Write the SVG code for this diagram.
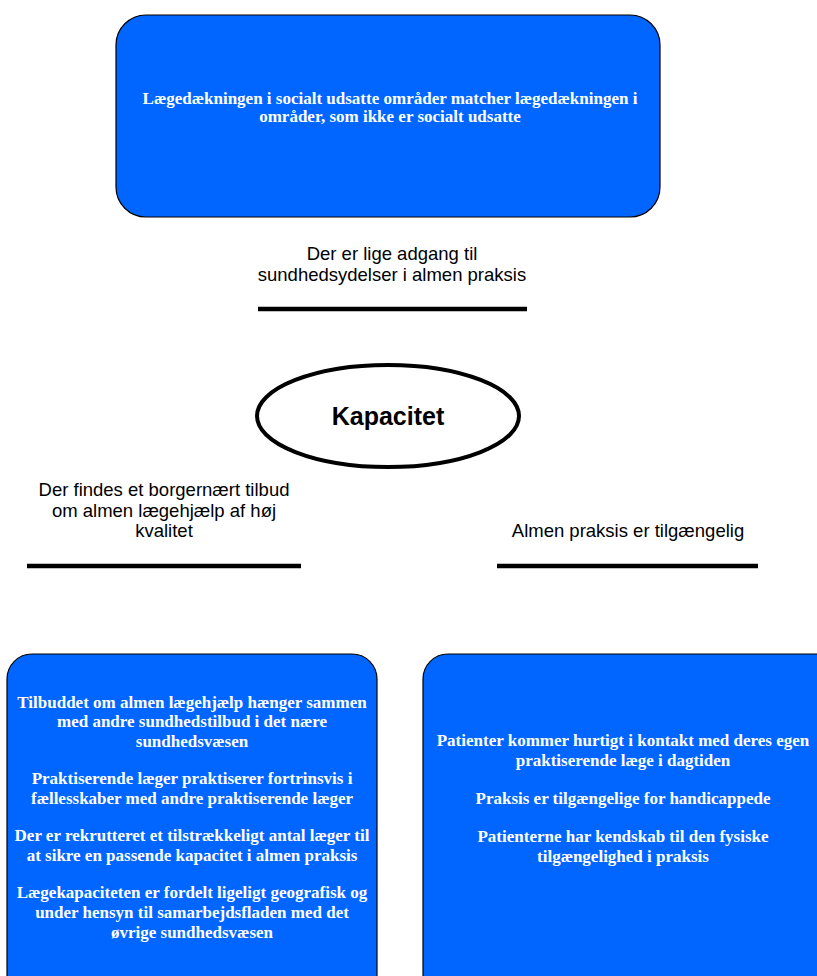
<svg xmlns="http://www.w3.org/2000/svg" width="817" height="976" viewBox="0 0 817 976">
<style>
.box{fill:#0066FF;stroke:#000;stroke-width:1.2}
.bt{font-family:"Liberation Serif","Times New Roman",serif;font-weight:bold;font-size:17px;fill:#fff;text-anchor:middle}
.lbl{font-family:"Liberation Sans",Arial,sans-serif;font-size:18.5px;fill:#000;text-anchor:middle}
.bar{stroke:#000;stroke-width:4.5}
</style>
<rect width="817" height="976" fill="#fff"/>
<g id="top">
<rect class="box" x="116" y="15" width="544" height="202" rx="30"/>
<text class="bt" x="390" y="104">Lægedækningen i socialt udsatte områder matcher lægedækningen i</text>
<text class="bt" x="390" y="122">områder, som ikke er socialt udsatte</text>
</g>
<g id="label-top">
<text class="lbl" x="392" y="260">Der er lige adgang til</text>
<text class="lbl" x="392" y="281">sundhedsydelser i almen praksis</text>
</g>
<g id="center">
<ellipse cx="388" cy="416" rx="131" ry="51" fill="#fff" stroke="#000" stroke-width="4"/>
<text x="388" y="425" font-family="Liberation Sans,Arial,sans-serif" font-weight="bold" font-size="25" text-anchor="middle">Kapacitet</text>
</g>
<g id="label-left">
<text class="lbl" x="164" y="496">Der findes et borgernært tilbud</text>
<text class="lbl" x="164" y="517">om almen lægehjælp af høj</text>
<text class="lbl" x="164" y="537">kvalitet</text>
</g>
<g id="label-right">
<text class="lbl" x="628" y="537">Almen praksis er tilgængelig</text>
</g>
<g id="connectors">
<line class="bar" x1="258" y1="309" x2="527" y2="309"/>
<line class="bar" x1="27" y1="566" x2="301" y2="566"/>
<line class="bar" x1="497" y1="566" x2="758" y2="566"/>
</g>
<g id="left-box">
<rect class="box" x="7" y="654" width="370" height="345" rx="25"/>
<text class="bt" x="192" y="708">Tilbuddet om almen lægehjælp hænger sammen</text>
<text class="bt" x="192" y="727">med andre sundhedstilbud i det nære</text>
<text class="bt" x="192" y="747">sundhedsvæsen</text>
<text class="bt" x="192" y="784">Praktiserende læger praktiserer fortrinsvis i</text>
<text class="bt" x="192" y="804">fællesskaber med andre praktiserende læger</text>
<text class="bt" x="192" y="841">Der er rekrutteret et tilstrækkeligt antal læger til</text>
<text class="bt" x="192" y="861">at sikre en passende kapacitet i almen praksis</text>
<text class="bt" x="192" y="898">Lægekapaciteten er fordelt ligeligt geografisk og</text>
<text class="bt" x="192" y="918">under hensyn til samarbejdsfladen med det</text>
<text class="bt" x="192" y="938">øvrige sundhedsvæsen</text>
</g>
<g id="right-box">
<rect class="box" x="423" y="654" width="420" height="345" rx="25"/>
<text class="bt" x="623" y="746">Patienter kommer hurtigt i kontakt med deres egen</text>
<text class="bt" x="623" y="766">praktiserende læge i dagtiden</text>
<text class="bt" x="623" y="804">Praksis er tilgængelige for handicappede</text>
<text class="bt" x="623" y="842">Patienterne har kendskab til den fysiske</text>
<text class="bt" x="623" y="862">tilgængelighed i praksis</text>
</g>
</svg>
